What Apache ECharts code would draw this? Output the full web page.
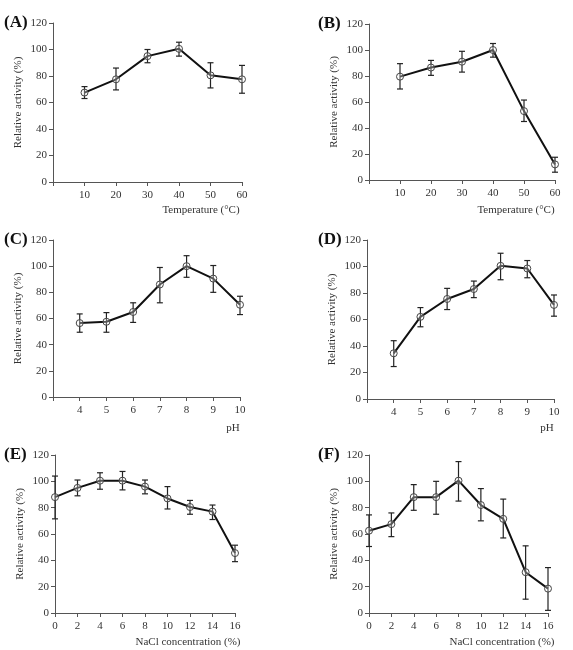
<!DOCTYPE html>
<html>
<head>
<meta charset="utf-8">
<script src="https://cdn.jsdelivr.net/npm/echarts@6/dist/echarts.min.js"></script>
<style>
  html, body { margin: 0; padding: 0; background: #fff; }
  #chart { width: 573px; height: 650px; }
</style>
</head>
<body>
<div id="chart"></div>
<script>
// x values of each experiment
const tempX = [10, 20, 30, 40, 50, 60];
const phX = [4, 5, 6, 7, 8, 9, 10];
const naclX = [0, 2, 4, 6, 8, 10, 12, 14, 16];

// (A) temperature
const aMean = [67.5, 77.5, 95, 100.5, 80.5, 77.5];
const aLow = [63, 69.5, 90, 95, 71, 67];
const aHigh = [72, 86, 100, 105.5, 90, 88];
// (B) temperature
const bMean = [79.5, 86.5, 91, 100, 53, 12];
const bLow = [70, 80.5, 83, 94.5, 45, 6];
const bHigh = [89.5, 92, 99, 105, 61.5, 17.5];
// (C) pH
const cMean = [56.5, 57.5, 65, 86, 100, 90.5, 70.5];
const cLow = [49.5, 49.5, 57, 72, 91.5, 80, 63];
const cHigh = [63.5, 64.5, 72, 99, 108, 100.5, 77];
// (D) pH
const dMean = [34.5, 62, 75.5, 83, 100.5, 98.5, 71];
const dLow = [24.5, 54.5, 67.5, 76.5, 90, 91.5, 62.5];
const dHigh = [44, 69, 83.5, 89, 110, 104.5, 78.5];
// (E) NaCl
const eMean = [88, 95, 100.5, 100.5, 96, 87, 80.5, 77, 45.5];
const eLow = [71.5, 89, 94, 93.5, 90.5, 79, 75, 71, 39];
const eHigh = [104, 101, 106.5, 107.5, 101, 96, 85.5, 82, 51.5];
// (F) NaCl
const fMean = [62.5, 67.5, 88, 88, 100.5, 82, 71.5, 31, 18.5];
const fLow = [50.5, 58, 78, 75, 85, 70, 57, 10.5, 2];
const fHigh = [74.5, 76, 97.5, 100, 115, 94.5, 86.5, 51, 34.5];

const yTicks = { min: 0, max: 120, interval: 20 };

const FONT = '"Liberation Serif", "DejaVu Serif", serif';

// panel layout: grid box, x range, x name and its position
const panels = [
  { tag: '(A)', x: tempX, m: aMean, lo: aLow, hi: aHigh, xmin: 0, xmax: 60, step: 10, xname: 'Temperature (°C)',
    grid: { left: 53, top: 23, width: 189, height: 159 }, tagPos: [4, 14], namePos: [201, 210] },
  { tag: '(B)', x: tempX, m: bMean, lo: bLow, hi: bHigh, xmin: 0, xmax: 60, step: 10, xname: 'Temperature (°C)',
    grid: { left: 369, top: 24, width: 186, height: 156 }, tagPos: [318, 15], namePos: [516, 210] },
  { tag: '(C)', x: phX, m: cMean, lo: cLow, hi: cHigh, xmin: 3, xmax: 10, step: 1, xname: 'pH',
    grid: { left: 53, top: 240, width: 187, height: 157 }, tagPos: [4, 231], namePos: [233, 428] },
  { tag: '(D)', x: phX, m: dMean, lo: dLow, hi: dHigh, xmin: 3, xmax: 10, step: 1, xname: 'pH',
    grid: { left: 367, top: 240, width: 187, height: 159 }, tagPos: [318, 231], namePos: [547, 428] },
  { tag: '(E)', x: naclX, m: eMean, lo: eLow, hi: eHigh, xmin: 0, xmax: 16, step: 2, xname: 'NaCl concentration (%)',
    grid: { left: 55, top: 455, width: 180, height: 158 }, tagPos: [4, 446], namePos: [188, 642], showZero: true },
  { tag: '(F)', x: naclX, m: fMean, lo: fLow, hi: fHigh, xmin: 0, xmax: 16, step: 2, xname: 'NaCl concentration (%)',
    grid: { left: 369, top: 455, width: 179, height: 158 }, tagPos: [318, 446], namePos: [502, 642], showZero: true }
];

const axisLine = { lineStyle: { color: '#555', width: 1 } };
const axisTick = { inside: false, length: 4, lineStyle: { color: '#555' } };
const labelStyle = { color: '#333', fontFamily: FONT, fontSize: 11 };

const grids = [], xAxes = [], yAxes = [], series = [], graphics = [];

panels.forEach(function (p, i) {
  grids.push(p.grid);
  xAxes.push({
    type: 'value', gridIndex: i, min: p.xmin, max: p.xmax, interval: p.step,
    axisLine: axisLine, axisTick: axisTick, splitLine: { show: false },
    axisLabel: Object.assign({ margin: 8, formatter: function (v) {
      return (v === p.xmin && !p.showZero) ? '' : v;
    } }, labelStyle)
  });
  yAxes.push({
    type: 'value', gridIndex: i, min: yTicks.min, max: yTicks.max, interval: yTicks.interval,
    name: 'Relative activity (%)', nameLocation: 'middle', nameGap: 29,
    nameTextStyle: { color: '#333', fontFamily: FONT, fontSize: 11 },
    axisLine: Object.assign({ show: true }, axisLine), axisTick: Object.assign({ show: true }, axisTick),
    splitLine: { show: false },
    axisLabel: Object.assign({ margin: 6 }, labelStyle)
  });
  series.push({
    type: 'custom', xAxisIndex: i, yAxisIndex: i, clip: false, z: 3,
    data: p.x.map(function (x, k) { return [x, p.lo[k], p.hi[k]]; }),
    renderItem: function (params, api) {
      const lo = api.coord([api.value(0), api.value(1)]);
      const hi = api.coord([api.value(0), api.value(2)]);
      const w = 3;
      const st = { stroke: '#222', lineWidth: 1.2 };
      return { type: 'group', children: [
        { type: 'line', shape: { x1: hi[0], y1: hi[1], x2: lo[0], y2: lo[1] }, style: st },
        { type: 'line', shape: { x1: hi[0] - w, y1: hi[1], x2: hi[0] + w, y2: hi[1] }, style: st },
        { type: 'line', shape: { x1: lo[0] - w, y1: lo[1], x2: lo[0] + w, y2: lo[1] }, style: st }
      ] };
    }
  });
  series.push({
    type: 'line', xAxisIndex: i, yAxisIndex: i, z: 4,
    data: p.x.map(function (x, k) { return [x, p.m[k]]; }),
    symbol: 'circle', symbolSize: 7, showAllSymbol: true,
    lineStyle: { color: '#111', width: 2 },
    itemStyle: { color: 'rgba(255,255,255,0.3)', borderColor: '#444', borderWidth: 1 }
  });
  graphics.push({
    type: 'text', left: p.tagPos[0], top: p.tagPos[1],
    style: { text: p.tag, font: 'bold 17px ' + FONT, fill: '#111' }
  });
  graphics.push({
    type: 'text', x: p.namePos[0], y: p.namePos[1],
    style: { text: p.xname, font: '11px ' + FONT, fill: '#333', textAlign: 'center', textVerticalAlign: 'middle' }
  });
});

const myChart = echarts.init(document.getElementById('chart'));
myChart.setOption({
  animation: false,
  backgroundColor: '#fff',
  grid: grids,
  xAxis: xAxes,
  yAxis: yAxes,
  series: series,
  graphic: graphics
});
</script>
</body>
</html>
